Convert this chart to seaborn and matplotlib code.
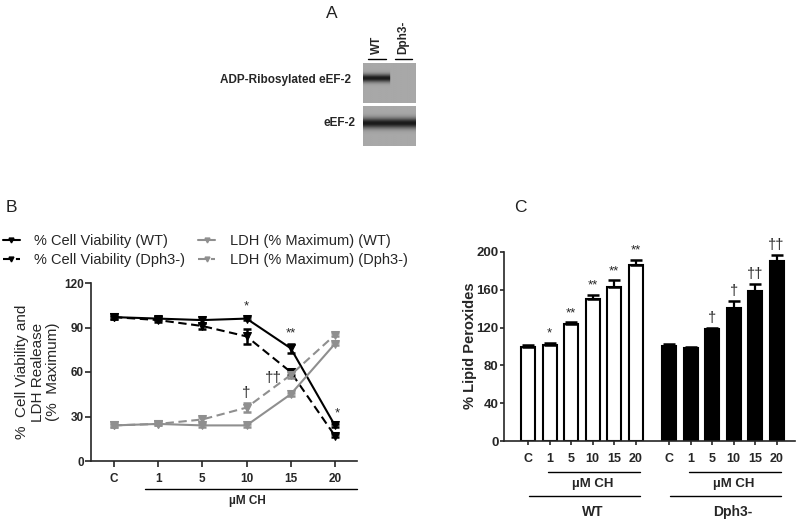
import numpy as np
import pandas as pd
import matplotlib
matplotlib.use("Agg")
import matplotlib.pyplot as plt
import matplotlib.transforms as mtrans
from matplotlib.lines import Line2D
import seaborn as sns

# ---------------- data ----------------
doses = ["C", "1", "5", "10", "15", "20"]

# Panel B: % cell viability and LDH release
via_wt = [97, 96, 95, 96, 76, 24]
via_wt_err = [1, 1, 2, 1, 3, 1]
via_dph = [97, 95, 91, 84, 60, 17]
via_dph_err = [1, 1, 2, 5, 2, 1]
ldh_wt = [24, 25, 24, 24, 45, 79]
ldh_wt_err = [1, 1, 1, 1, 1, 1]
ldh_dph = [24, 25, 28, 36, 58, 85]
ldh_dph_err = [1, 1, 2, 3, 2, 1]
sig_via_wt = ["", "", "", "*", "**", "*"]
sig_ldh_dph = ["", "", "", "\u2020", "\u2020\u2020", ""]

# Panel C: % lipid peroxides
groups = ["WT", "Dph3-"]
lipid_wt = [100, 102, 124, 150, 163, 186]
lipid_wt_err = [2, 2, 2, 5, 7, 6]
lipid_dph = [101, 98, 118, 141, 159, 191]
lipid_dph_err = [2, 2, 2, 7, 7, 6]
sig_lipid_wt = ["", "*", "**", "**", "**", "**"]
sig_lipid_dph = ["", "", "\u2020", "\u2020", "\u2020\u2020", "\u2020\u2020"]

# Panel A: western blot band intensities per lane (WT, Dph3-)
blot_lanes = ["WT", "Dph3-"]
blot_rows = ["ADP-Ribosylated eEF-2", "eEF-2"]
band_adp = [1.0, 0.0]
band_eef2 = [1.0, 1.0]

# ---------------- style ----------------
sns.set_theme(style="ticks")
plt.rcParams["font.family"] = ["Liberation Sans", "DejaVu Sans"]
plt.rcParams["axes.linewidth"] = 1.2
plt.rcParams["xtick.major.width"] = 1.2
plt.rcParams["ytick.major.width"] = 1.2

W, H = 800, 523
fig = plt.figure(figsize=(8, 5.23), dpi=100)


def fx(px):
    return px / W


def fy(py):
    return 1 - py / H


# ---------------- Panel A ----------------
fig.text(fx(332), fy(13), "A", fontsize=12.5, ha="center", va="center", color="#222222")


def blot(ax, lanes, center, thick, right_frac):
    ny, nx = 60, 80
    img = np.full((ny, nx), 0.66)
    yy = np.arange(ny)[:, None]
    prof = np.exp(-0.5 * ((yy - center * ny) / (thick * ny)) ** 2)
    lane_w = nx / len(lanes)
    for i, inten in enumerate(lanes):
        x0 = int(i * lane_w)
        x1 = int((i + 1) * lane_w)
        if i == 0 and lanes[1] == 0:
            x1 = int(right_frac * nx)
        mask = np.zeros((1, nx))
        mask[0, x0:x1] = inten
        img = img - 0.56 * prof * mask
    ax.imshow(img, cmap="gray", vmin=0, vmax=1, aspect="auto", interpolation="bilinear")
    ax.set_xticks([])
    ax.set_yticks([])
    for s in ax.spines.values():
        s.set_visible(False)


axA1 = fig.add_axes([fx(363), fy(103), fx(415) - fx(363), (103 - 63) / H])
blot(axA1, band_adp, 0.37, 0.07, 0.52)
axA2 = fig.add_axes([fx(363), fy(146), fx(415) - fx(363), (146 - 106) / H])
blot(axA2, band_eef2, 0.42, 0.09, 1.0)

fig.text(fx(351), fy(80), blot_rows[0], fontsize=8.5, fontweight="bold", ha="right", va="center")
fig.text(fx(356), fy(123), blot_rows[1], fontsize=8.5, fontweight="bold", ha="right", va="center")
for lx, lab, l0, l1 in [(377, blot_lanes[0], 368, 386), (403, blot_lanes[1], 395, 412)]:
    fig.text(fx(lx), fy(54), lab, fontsize=8.5, fontweight="bold", rotation=90, ha="center", va="bottom")
    fig.add_artist(Line2D([fx(l0), fx(l1)], [fy(59), fy(59)], color="black", lw=1.0))

# ---------------- Panel B ----------------
fig.text(fx(11), fy(208), "B", fontsize=12.5, ha="center", va="center", color="#222222")

axB = fig.add_axes([fx(91), fy(461), fx(357) - fx(91), (461 - 283) / H])
xpos = list(range(len(doses)))
gray = "#8f8f8f"
series = [
    (via_wt, via_wt_err, "black", "-", "% Cell Viability (WT)"),
    (via_dph, via_dph_err, "black", (0, (4, 2.2)), "% Cell Viability (Dph3-)"),
    (ldh_wt, ldh_wt_err, gray, "-", "LDH (% Maximum) (WT)"),
    (ldh_dph, ldh_dph_err, gray, (0, (4, 2.2)), "LDH (% Maximum) (Dph3-)"),
]
handles = []
for vals, err, col, ls, lab in series:
    sns.lineplot(x=xpos, y=vals, ax=axB, color=col, linestyle=ls, lw=1.5,
                 marker="v", markersize=6, markeredgecolor=col, legend=False)
    axB.errorbar(xpos, vals, yerr=err, fmt="none", ecolor=col, elinewidth=1.8,
                 capsize=2.8, capthick=1.8)
    handles.append(Line2D([], [], color=col, linestyle=ls, lw=1.5, marker="v",
                          markersize=3.5, markeredgecolor=col, label=lab))

axB.set_xlim(-0.52, 5.5)
axB.set_ylim(0, 120)
axB.set_yticks([0, 30, 60, 90, 120])
axB.set_xticks(xpos)
axB.set_xticklabels(doses)
axB.tick_params(axis="x", length=4, pad=5, labelsize=8.5)
axB.tick_params(axis="y", length=4, pad=1, labelsize=8.5)
for t in axB.get_xticklabels() + axB.get_yticklabels():
    t.set_fontweight("bold")
sns.despine(ax=axB)
axB.set_xlabel("")
axB.set_ylabel("")

# significance marks
for i, s in enumerate(sig_via_wt):
    if s:
        dx = 0.06 if i == 5 else 0
        axB.text(i + dx, via_wt[i] + via_wt_err[i] + 3, s, ha="center", va="bottom", fontsize=9.5)
for i, s in enumerate(sig_ldh_dph):
    if s:
        if len(s) == 2:
            axB.text(i - 0.38, ldh_dph[i] - 2, s, ha="center", va="center", fontsize=11)
        else:
            axB.text(i, ldh_dph[i] + ldh_dph_err[i] + 2, s, ha="center", va="bottom", fontsize=11)

trB = mtrans.blended_transform_factory(axB.transData, axB.transAxes)
axB.plot([0.7, 5.5], [-0.157, -0.157], color="black", lw=1.0, transform=trB, clip_on=False)
axB.text(3.03, -0.225, "\u00b5M CH", ha="center", va="center", fontsize=8.5,
         fontweight="bold", transform=trB)

fig.text(fx(15), fy(372), "%  Cell Viability and\nLDH Realease\n(%  Maximum)", rotation=90,
         ha="left", va="center", multialignment="center", fontsize=11, linespacing=1.15)

fig.legend(handles=handles, loc="upper left", ncol=2,
           bbox_to_anchor=(fx(3), fy(234)), frameon=False, fontsize=10.5,
           handlelength=1.15, handletextpad=1.0, columnspacing=0.9,
           labelspacing=0.35, borderaxespad=0, borderpad=0)

# ---------------- Panel C ----------------
fig.text(fx(520), fy(208), "C", fontsize=12.5, ha="center", va="center", color="#222222")

axC = fig.add_axes([fx(504), fy(441), fx(795) - fx(504), (441 - 252) / H])
offset = 6.55
pos_wt = list(range(len(doses)))
pos_dph = [p + offset for p in pos_wt]
dfC = pd.DataFrame({
    "pos": pos_wt + pos_dph,
    "value": lipid_wt + lipid_dph,
    "err": lipid_wt_err + lipid_dph_err,
    "group": [groups[0]] * len(doses) + [groups[1]] * len(doses),
})
sns.barplot(data=dfC, x="pos", y="value", hue="group", native_scale=True, dodge=False,
            palette={groups[0]: "white", groups[1]: "black"}, width=0.65,
            edgecolor="black", linewidth=1.5, errorbar=None, legend=False, ax=axC)
axC.errorbar(dfC["pos"], dfC["value"], yerr=[np.zeros(len(dfC)), dfC["err"]], fmt="none",
             ecolor="black", elinewidth=1.6, capsize=4.5, capthick=1.8)

for p, v, e, s in zip(pos_wt + pos_dph, lipid_wt + lipid_dph,
                      lipid_wt_err + lipid_dph_err, sig_lipid_wt + sig_lipid_dph):
    if s:
        fs = 9.5 if "*" in s else 10.5
        axC.text(p, v + e + 3, s, ha="center", va="bottom", fontsize=fs)

axC.set_xlim(-1.12, 12.4)
axC.set_ylim(0, 200)
axC.set_yticks([0, 40, 80, 120, 160, 200])
axC.set_xticks(pos_wt + pos_dph)
axC.set_xticklabels(doses + doses)
axC.tick_params(axis="x", length=3, pad=6, labelsize=9)
axC.tick_params(axis="y", length=3, pad=1, labelsize=9.5)
for t in axC.get_xticklabels() + axC.get_yticklabels():
    t.set_fontweight("bold")
sns.despine(ax=axC)
axC.set_xlabel("")
axC.set_ylabel("")
fig.text(fx(470), fy(346), "% Lipid Peroxides", fontsize=10.5, fontweight="bold",
         rotation=90, ha="center", va="center")

trC = mtrans.blended_transform_factory(axC.transData, axC.transAxes)
for base, name in [(0, groups[0]), (offset, groups[1])]:
    axC.plot([base + 0.93, base + 5.2], [-0.164, -0.164], color="black", lw=1.0,
             transform=trC, clip_on=False)
    axC.text(base + 2.98, -0.228, "\u00b5M CH", ha="center", va="center", fontsize=9.5,
             fontweight="bold", transform=trC)
    axC.plot([base + 0.05, base + 5.2], [-0.291, -0.291], color="black", lw=1.0,
             transform=trC, clip_on=False)
    axC.text(base + 2.98, -0.376, name, ha="center", va="center", fontsize=10,
             fontweight="bold", transform=trC)

fig.savefig("out.png", dpi=100)
